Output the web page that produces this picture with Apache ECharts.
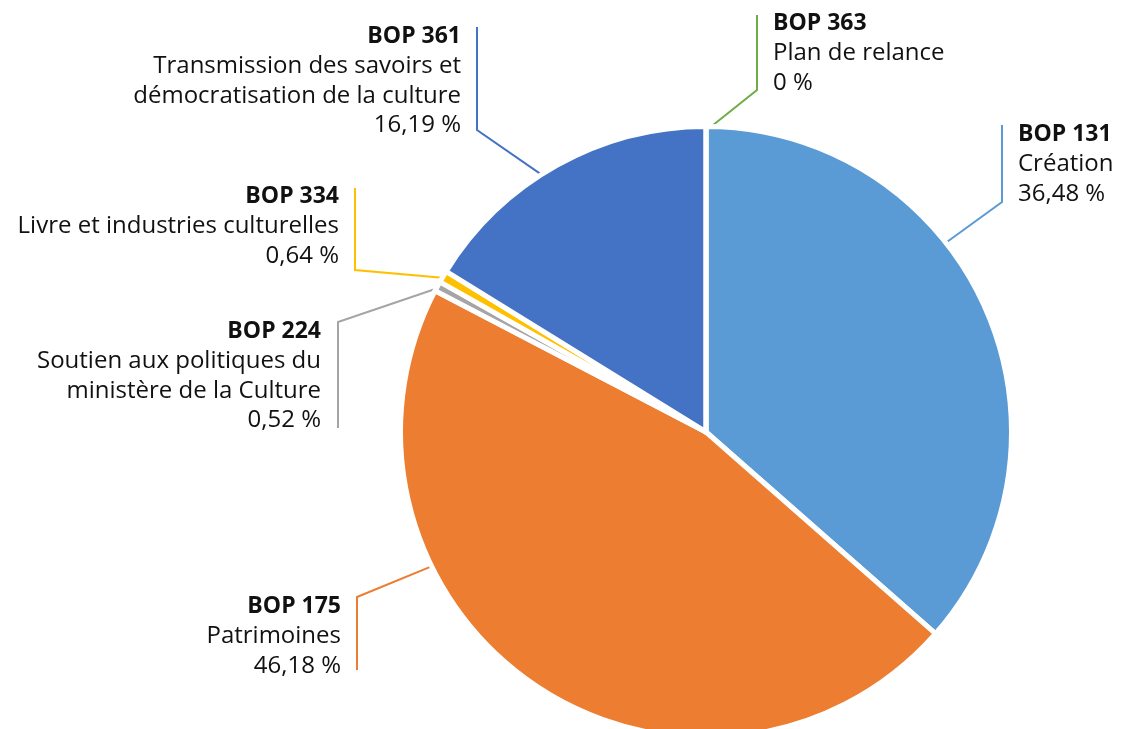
<!DOCTYPE html>
<html><head><meta charset="utf-8">
<script src="https://cdn.jsdelivr.net/npm/echarts@6/dist/echarts.min.js"></script>
<style>html,body{margin:0;padding:0;background:#fff}#c{width:1122px;height:729px}</style>
</head><body><div id="c"></div>
<script>
// ---- data ----
const codes = ['BOP 131', 'BOP 175', 'BOP 224', 'BOP 334', 'BOP 361', 'BOP 363'];
const names = ['Création', 'Patrimoines', 'Soutien aux politiques du\nministère de la Culture',
  'Livre et industries culturelles', 'Transmission des savoirs et\ndémocratisation de la culture', 'Plan de relance'];
const shares = [36.48, 46.18, 0.52, 0.64, 16.19, 0];
const colors = ['#5B9BD5', '#ED7D31', '#A5A5A5', '#FFC000', '#4472C4', '#70AD47'];

// ---- layout (positions of labels / leader lines) ----
const CX = 706, CY = 432, R = 303;
const LAYOUT = [
  {x: 1018, y: 120, align: 'left',  lx: 1002, la: 202, lb: 125, ang: 51.7},
  {x: 341,  y: 592, align: 'right', lx: 357,  la: 597, lb: 670, ang: 243.9},
  {x: 321,  y: 317, align: 'right', lx: 338,  la: 322, lb: 428, ang: null},
  {x: 339,  y: 182, align: 'right', lx: 355,  la: 270, lb: 188, ang: null},
  {x: 461,  y: 22,  align: 'right', lx: 477,  la: 130, lb: 27,  ang: 327.6},
  {x: 773,  y: 9,   align: 'left',  lx: 757,  la: 90,  lb: 15,  ang: 0.4}
];

const total = shares.reduce((a, b) => a + b, 0);
function midAngle(i) {
  let s = 0;
  for (let k = 0; k < i; k++) s += shares[k];
  return (s + shares[i] / 2) / total * 360;
}
function fmt(v) { return String(v).replace('.', ',') + ' %'; }

const chart = echarts.init(document.getElementById('c'), null, {renderer: 'canvas'});
const FONT = 'Open Sans';
chart.setOption({
  animation: false,
  backgroundColor: '#fff',
  series: [{
    type: 'pie',
    center: [CX, CY],
    radius: R + 2.5,
    startAngle: 90,
    clockwise: true,
    avoidLabelOverlap: false,
    minShowLabelAngle: 0,
    itemStyle: {borderColor: '#fff', borderWidth: 5},
    emphasis: {disabled: true},
    label: {
      show: true,
      position: 'outside',
      color: '#111',
      fontFamily: FONT,
      formatter: function (p) {
        const i = p.dataIndex;
        const lines = names[i].split('\n').map(s => '{n|' + s + '}').join('\n');
        return '{b|' + codes[i] + '}\n' + lines + '\n{n|' + fmt(shares[i]) + '}';
      },
      rich: {
        b: {fontFamily: FONT, fontSize: 23, fontWeight: 'bold', lineHeight: 29.5, color: '#111'},
        n: {fontFamily: FONT, fontSize: 24, lineHeight: 29.5, color: '#111'}
      }
    },
    labelLine: {show: true, length: 10, length2: 10, smooth: false, lineStyle: {width: 2}},
    labelLayout: function (params) {
      const i = params.dataIndex;
      const L = LAYOUT[i];
      const a = (L.ang === null ? midAngle(i) : L.ang) * Math.PI / 180;
      const ex = CX + R * Math.sin(a), ey = CY - R * Math.cos(a);
      return {
        x: L.x, y: L.y, align: L.align, verticalAlign: 'top',
        labelLinePoints: [[ex, ey], [L.lx, L.la], [L.lx, L.lb]]
      };
    },
    data: shares.map((v, i) => ({
      value: v,
      name: codes[i],
      itemStyle: {color: colors[i]},
      label: {align: LAYOUT[i].align},
      labelLine: {lineStyle: {color: colors[i], width: 2}}
    }))
  }]
});
</script>
</body></html>
